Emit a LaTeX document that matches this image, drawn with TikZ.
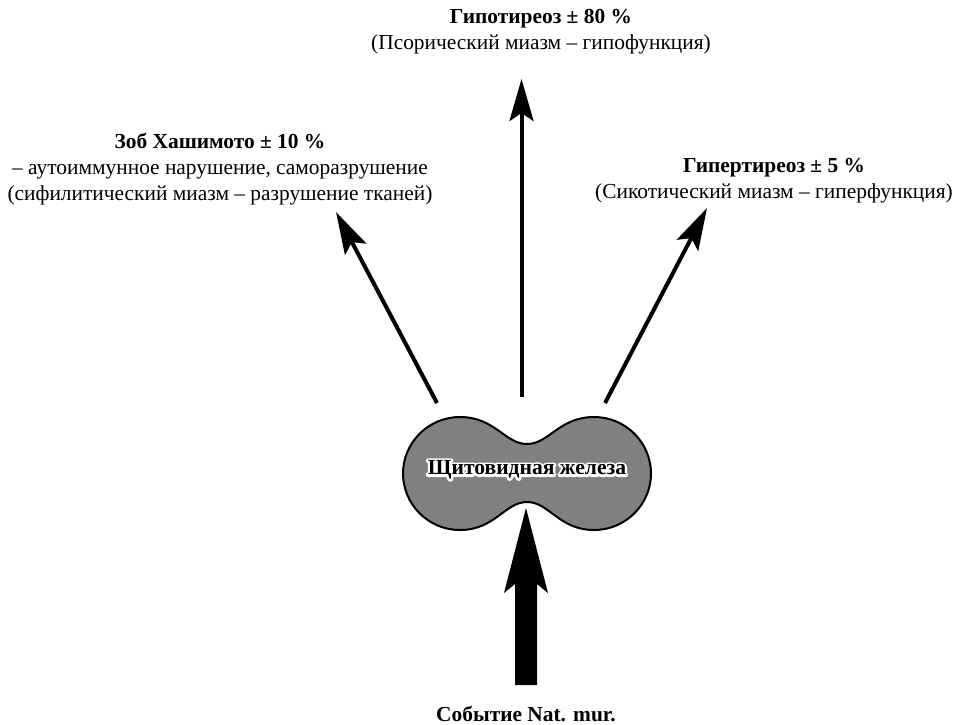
\documentclass[tikz,border=0pt]{standalone}
\usepackage{fontspec}
\setmainfont{Liberation Serif}
\usetikzlibrary{arrows.meta}
\newcommand\halostart{\special{pdf:literal direct 1 Tr 4.5 w 1 j 1 J 1 G}}
\newcommand\halostop{\special{pdf:literal direct 0 Tr 0 G}}
\begin{document}
\begin{tikzpicture}[x=1pt,y=-1pt,
  lbl/.style={align=center,font=\fontsize{21.4}{26}\selectfont,inner sep=0pt},
  thin arrow/.style={line width=4pt,-{Stealth[length=42pt,width=24pt,inset=8pt]}},
  glandtext/.style={font=\fontsize{21.6}{24}\selectfont\bfseries,inner sep=0pt}]
\useasboundingbox (0,0) rectangle (955,724);
% labels
\node[lbl] (top) at (541,32) {\textbf{Гипотиреоз ± 80 \%}\\(Псорический миазм – гипофункция)};
\node[lbl] (left) at (220,169) {\textbf{Зоб Хашимото ± 10 \%}\\– аутоиммунное нарушение, саморазрушение\\(сифилитический миазм – разрушение тканей)};
\node[lbl] (right) at (774,180.5) {\textbf{Гипертиреоз ± 5 \%}\\(Сикотический миазм – гиперфункция)};
\node[lbl,font=\fontsize{21.4}{26}\selectfont\bfseries,anchor=base] (event) at (526,721) {Событие Nat. mur.};
% gland
\draw[line width=2pt,fill=black!50]
  (527,444) .. controls (505,444) and (495,417) .. (460,417)
  .. controls (428,417) and (403,443) .. (403,473.5)
  .. controls (403,504) and (428,530) .. (460,530)
  .. controls (495,530) and (505,502) .. (527,502)
  .. controls (549,502) and (559,530) .. (594,530)
  .. controls (626,530) and (651,504) .. (651,473.5)
  .. controls (651,443) and (626,417) .. (594,417)
  .. controls (559,417) and (549,444) .. (527,444) -- cycle;
\coordinate (gc) at (527,470);
\node[glandtext] (halo) at (gc) {\halostart Щитовидная железа\halostop};
\node[glandtext] (gland) at (gc) {Щитовидная железа};
% arrow ends
\coordinate (ls) at (437,403);
\coordinate (lt) at (336,212);
\coordinate (ms) at (521.5,397);
\coordinate (mt) at (521.5,79);
\coordinate (rs) at (605,403);
\coordinate (rt) at (707,208);
\draw[thin arrow] (ls) -- (lt);
\draw[thin arrow] (ms) -- (mt);
\draw[thin arrow] (rs) -- (rt);
% big arrow
\coordinate (bb) at (526,685);
\coordinate (bt) at (526,508);
\fill ([xshift=-11pt]bb) -- ([xshift=-11pt]bb |- 0,584) -- (504,593) -- (bt) -- (548,593) -- ([xshift=11pt]bb |- 0,584) -- ([xshift=11pt]bb) -- cycle;
\end{tikzpicture}
\end{document}
